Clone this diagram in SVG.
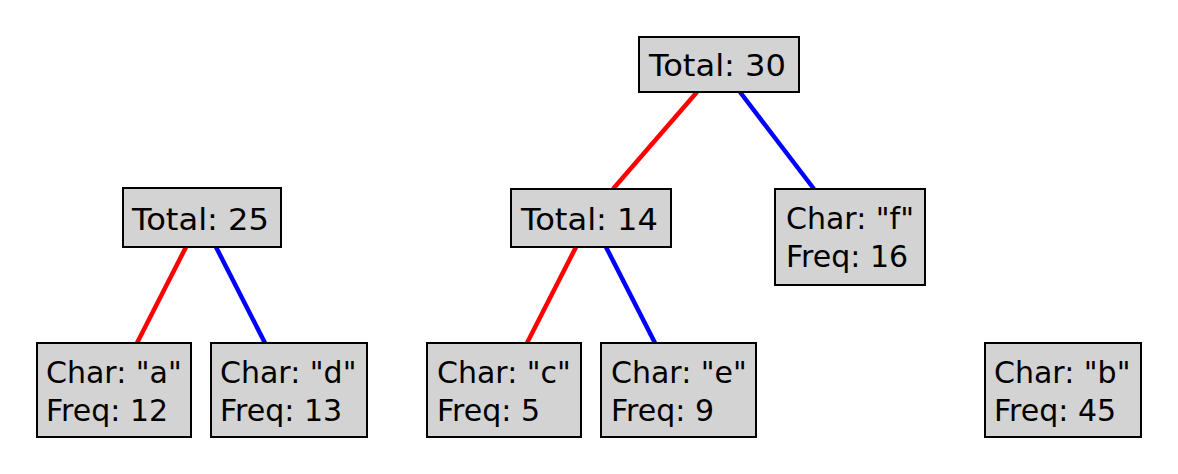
<svg xmlns="http://www.w3.org/2000/svg" width="1178" height="474" viewBox="0 0 1178 474">
  <style>
    .box { fill: #d3d3d3; stroke: #000; stroke-width: 2; }
    .lbl { font-family: "DejaVu Sans", "Verdana", sans-serif; font-size: 30px; fill: #000; }
    .left { stroke: #ff0000; stroke-width: 4.5; }
    .right { stroke: #0000ff; stroke-width: 4.5; }
  </style>
  <rect width="1178" height="474" fill="#ffffff"/>

  <!-- tree edges: red = left child, blue = right child -->
  <g id="connectors">
    <line class="left" x1="186" y1="247" x2="137" y2="343"/>
    <line class="right" x1="216" y1="247" x2="265" y2="343"/>
    <line class="left" x1="697" y1="92" x2="613" y2="189"/>
    <line class="right" x1="740" y1="92" x2="814" y2="189"/>
    <line class="left" x1="576" y1="247" x2="527" y2="343"/>
    <line class="right" x1="606" y1="247" x2="655" y2="343"/>
  </g>

  <g id="total30">
    <rect class="box" x="639" y="37" width="160" height="55"/>
    <text class="lbl" x="649" y="76" textLength="137" lengthAdjust="spacingAndGlyphs">Total: 30</text>
  </g>
  <g id="total25">
    <rect class="box" x="123" y="188" width="158" height="59"/>
    <text class="lbl" x="132" y="230" textLength="137" lengthAdjust="spacingAndGlyphs">Total: 25</text>
  </g>
  <g id="total14">
    <rect class="box" x="511" y="189" width="160" height="58"/>
    <text class="lbl" x="521" y="230" textLength="137" lengthAdjust="spacingAndGlyphs">Total: 14</text>
  </g>
  <g id="leaf-f">
    <rect class="box" x="775" y="189" width="150" height="96"/>
    <text class="lbl" x="786" y="229">Char: "f"</text>
    <text class="lbl" x="786" y="267">Freq: 16</text>
  </g>
  <g id="leaf-a">
    <rect class="box" x="37" y="343" width="154" height="94"/>
    <text class="lbl" x="46" y="383">Char: "a"</text>
    <text class="lbl" x="46" y="421">Freq: 12</text>
  </g>
  <g id="leaf-d">
    <rect class="box" x="211" y="343" width="156" height="94"/>
    <text class="lbl" x="220" y="383">Char: "d"</text>
    <text class="lbl" x="220" y="421">Freq: 13</text>
  </g>
  <g id="leaf-c">
    <rect class="box" x="427" y="343" width="154" height="94"/>
    <text class="lbl" x="437" y="383">Char: "c"</text>
    <text class="lbl" x="437" y="421">Freq: 5</text>
  </g>
  <g id="leaf-e">
    <rect class="box" x="601" y="343" width="155" height="94"/>
    <text class="lbl" x="611" y="383">Char: "e"</text>
    <text class="lbl" x="611" y="421">Freq: 9</text>
  </g>
  <g id="leaf-b">
    <rect class="box" x="985" y="343" width="156" height="94"/>
    <text class="lbl" x="994" y="383">Char: "b"</text>
    <text class="lbl" x="994" y="421">Freq: 45</text>
  </g>
</svg>
